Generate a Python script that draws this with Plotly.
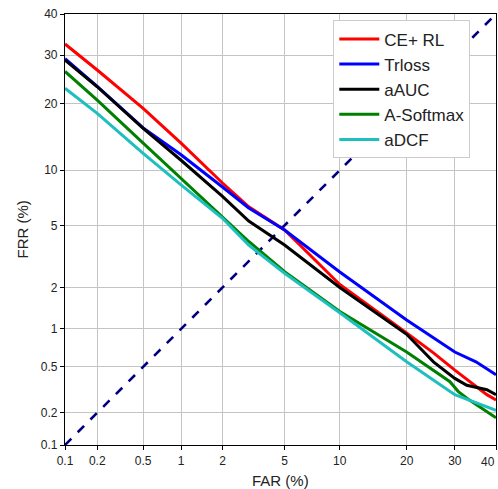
from statistics import NormalDist
import plotly.graph_objects as go

nd = NormalDist()
def pz(v):
    return [nd.inv_cdf(p / 100.0) for p in v]

tick_vals = [0.1, 0.2, 0.5, 1, 2, 5, 10, 20, 30, 40]
tick_text = ["0.1", "0.2", "0.5", "1", "2", "5", "10", "20", "30", "40"]

names = ["CE+ RL", "Trloss", "aAUC", "A-Softmax", "aDCF"]
colors = ["#ff0000", "#0000ff", "#000000", "#008000", "#1fbfbf"]

far_red = [0.1, 0.2, 0.5, 1, 2, 3, 5, 10, 20, 25.3, 30, 35, 37.7, 40]
frr_red = [32.6, 26.7, 19.1, 13.5, 8.6, 6.4, 4.7, 2.1, 0.93, 0.65, 0.47, 0.34, 0.29, 0.26]

far_blue = [0.1, 0.2, 0.5, 1, 2, 3, 5, 10, 20, 30, 35, 40]
frr_blue = [29.2, 23.3, 15.8, 11.9, 8.2, 6.3, 4.7, 2.55, 1.17, 0.66, 0.55, 0.43]

far_black = [0.1, 0.2, 0.5, 1, 2, 3, 5, 10, 20, 25.3, 30, 32.8, 37.7, 40]
frr_black = [28.9, 23.2, 15.7, 11.2, 7.3, 5.3, 3.8, 2.0, 0.91, 0.55, 0.40, 0.35, 0.32, 0.29]

far_green = [0.1, 0.2, 0.5, 1, 2, 3, 5, 10, 20, 25.3, 28.9, 30.75, 32.8, 40]
frr_green = [26.4, 20.6, 13.5, 9.1, 5.6, 4.0, 2.56, 1.35, 0.66, 0.47, 0.375, 0.31, 0.27, 0.18]

far_cyan = [0.1, 0.2, 0.5, 1, 2, 3, 5, 10, 20, 30, 40]
frr_cyan = [22.9, 18.2, 12.1, 8.4, 5.5, 3.8, 2.5, 1.32, 0.55, 0.29, 0.21]

diag = [0.1, 40]

series = [(far_red, frr_red), (far_blue, frr_blue), (far_black, frr_black),
          (far_green, frr_green), (far_cyan, frr_cyan)]

FONT = "Liberation Sans, Arial, sans-serif"

fig = go.Figure()
fig.add_trace(go.Scatter(x=pz(diag), y=pz(diag), mode="lines",
                         line=dict(color="#000080", width=2.6, dash="dash"),
                         showlegend=False, hoverinfo="skip"))
for (fx, fy), n, c in zip(series, names, colors):
    fig.add_trace(go.Scatter(x=pz(fx), y=pz(fy), mode="lines", name=n,
                             line=dict(color=c, width=3)))

rng = [nd.inv_cdf(0.001), nd.inv_cdf(0.4)]
axis_common = dict(
    range=rng, tickmode="array", tickvals=pz(tick_vals), ticktext=tick_text,
    showgrid=True, gridcolor="#c4c4c4", gridwidth=1.3,
    showline=True, linecolor="#000000", linewidth=1.2, mirror=True,
    ticks="outside", ticklen=4, tickcolor="#000000",
    tickfont=dict(family=FONT, size=12, color="#222222"),
    zeroline=False, automargin=False,
)
fig.update_xaxes(**axis_common)
fig.update_yaxes(**axis_common)

fig.update_layout(
    width=498, height=489,
    margin=dict(l=65, r=2, t=14, b=44, autoexpand=False),
    plot_bgcolor="#ffffff", paper_bgcolor="#ffffff",
    legend=dict(x=0.6225, y=0.985, xanchor="left", yanchor="top",
                bgcolor="#ffffff", bordercolor="#cccccc", borderwidth=1,
                font=dict(family=FONT, size=17, color="#222222"),
                itemwidth=40, tracegroupgap=0),
    showlegend=True,
    annotations=[
        dict(text="FAR (%)", xref="paper", yref="paper", x=0.5, y=0, yshift=-35,
             xanchor="center", yanchor="middle", showarrow=False,
             font=dict(family=FONT, size=15, color="#222222")),
        dict(text="FRR (%)", xref="paper", yref="paper", x=0, y=0.5, xshift=-43,
             xanchor="center", yanchor="middle", showarrow=False, textangle=-90,
             font=dict(family=FONT, size=15, color="#222222")),
        dict(text=tick_text[-1], xref="x", yref="paper", x=pz([tick_vals[-1]])[0], y=0,
             yshift=-17, xshift=1, xanchor="right", yanchor="middle", showarrow=False,
             font=dict(family=FONT, size=12, color="#222222")),
    ],
)
fig.write_html("out.html", config={"displayModeBar": False},
               post_script="document.body.style.margin='0px';document.body.style.overflow='hidden';")
